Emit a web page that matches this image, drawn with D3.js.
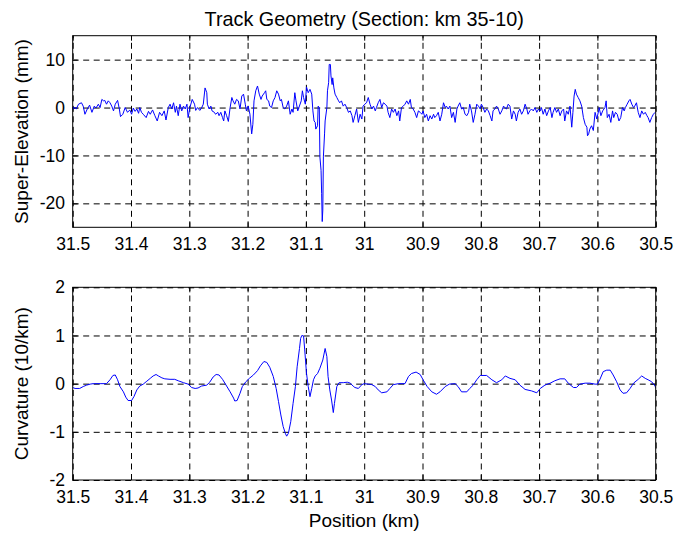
<!DOCTYPE html>
<html>
<head>
<meta charset="utf-8">
<script src="https://cdnjs.cloudflare.com/ajax/libs/d3/7.8.5/d3.min.js"></script>
<style>
  body { margin: 0; background: #fff; }
  text { font-family: "Liberation Sans", Arial, Helvetica, sans-serif; fill: #000; }
</style>
</head>
<body>
<script>
// chart text
var titleText = "Track Geometry (Section: km 35-10)";
var seLabel = "Super-Elevation (mm)";
var curvLabel = "Curvature (10/km)";
var xLabel = "Position (km)";

// tick values
var kmTicks = [31.5, 31.4, 31.3, 31.2, 31.1, 31, 30.9, 30.8, 30.7, 30.6, 30.5];
var seTicks = [-20, -10, 0, 10];
var curvTicks = [-2, -1, 0, 1, 2];
var seDomain = [-25, 15];
var curvDomain = [-2, 2];

// super-elevation [km, mm]
var superElevation = [
  [31.500,-0.5],[31.498,0.1],[31.494,-0.3],[31.490,0.7],[31.485,1.0],[31.482,0.3],[31.479,-1.4],[31.475,-0.3],
  [31.471,0.5],[31.467,-1.0],[31.463,0.3],[31.460,-0.1],[31.456,0.7],[31.453,0.0],[31.450,1.7],[31.447,1.4],
  [31.445,1.5],[31.442,0.7],[31.439,1.4],[31.436,1.0],[31.433,0.3],[31.430,-0.7],[31.427,0.7],[31.423,1.5],
  [31.420,-0.3],[31.418,-1.9],[31.414,-1.4],[31.410,0.0],[31.406,-1.0],[31.402,-0.5],[31.399,-1.4],[31.396,-0.1],
  [31.393,-0.8],[31.390,-0.3],[31.387,-1.2],[31.385,0.0],[31.382,-1.0],[31.379,-1.4],[31.374,-2.1],[31.370,-0.8],
  [31.367,-1.4],[31.363,-0.5],[31.359,-1.7],[31.355,-2.8],[31.351,-1.0],[31.347,-1.7],[31.343,-0.7],[31.340,-2.6],
  [31.336,0.0],[31.333,0.7],[31.330,-0.3],[31.327,1.0],[31.324,-1.0],[31.322,0.3],[31.319,-1.7],[31.316,0.7],
  [31.313,-0.7],[31.310,0.3],[31.307,-0.3],[31.304,0.7],
  [31.302,-2.1],[31.299,0.0],[31.295,1.7],[31.291,0.7],[31.289,-0.6],[31.286,0.0],[31.282,-0.6],[31.279,-0.1],
  [31.276,0.7],[31.273,4.1],[31.270,3.1],[31.269,0.7],[31.266,-0.3],[31.263,0.3],[31.261,-0.7],[31.257,-1.0],
  [31.255,-1.4],[31.251,-1.0],[31.249,-1.7],[31.246,-1.0],[31.243,-2.1],[31.241,-2.8],[31.239,-0.7],[31.236,-1.7],
  [31.233,-2.9],[31.230,0.0],[31.227,2.1],[31.225,1.4],[31.222,0.7],[31.219,1.7],[31.216,1.4],[31.213,-0.3],
  [31.210,2.4],[31.207,2.8],[31.204,0.7],[31.202,-0.7],[31.199,0.3],[31.196,-1.4],[31.193,-5.5],[31.191,-3.5],
  [31.189,1.4],[31.186,3.5],[31.183,4.5],[31.180,2.8],[31.177,1.7],[31.175,2.4],[31.171,3.1],[31.169,3.5],
  [31.167,1.7],[31.164,1.4],[31.162,0.3],[31.159,0.0],[31.156,1.4],[31.153,2.1],[31.150,3.5],[31.147,2.8],
  [31.144,1.4],[31.142,1.7],[31.139,0.0],[31.136,-0.3],[31.133,0.3],[31.130,1.4],[31.127,-1.4],[31.124,-0.3],
  [31.122,-1.0],[31.119,3.1],[31.117,1.4],[31.114,-0.7],[31.112,0.0],[31.108,1.4],[31.106,3.5],[31.104,2.1],
  [31.101,0.7],
  [31.099,4.3],[31.096,3.1],[31.093,3.8],[31.090,2.8],[31.088,-0.7],[31.086,-2.8],[31.084,-3.1],[31.083,-4.5],
  [31.080,-3.8],[31.079,0.3],[31.077,0.0],[31.076,-10.3],[31.074,-13.1],[31.073,-17.9],[31.072,-23.8],[31.071,-21.4],
  [31.070,-10.3],[31.068,-5.5],[31.067,-2.8],[31.064,0.0],[31.063,3.5],[31.061,5.2],[31.060,9.0],[31.058,9.0],
  [31.057,6.6],[31.055,4.8],[31.054,6.2],[31.052,4.1],[31.050,2.8],[31.047,2.1],[31.044,1.4],[31.042,1.0],
  [31.039,1.4],[31.036,0.3],[31.033,0.7],[31.030,0.0],[31.027,-1.0],[31.024,-0.7],[31.021,-1.7],[31.019,-3.1],
  [31.016,-1.7],[31.013,-0.3],[31.010,-3.1],[31.007,-1.4],[31.004,-2.4],[31.002,0.3],[30.999,0.7],[30.996,1.0],
  [30.993,2.1],[30.990,0.7],[30.987,-0.3],[30.984,0.3],[30.981,-0.7],[30.979,0.0],[30.976,1.0],[30.973,1.7],
  [30.970,0.0],[30.967,1.0],[30.964,0.7],[30.961,0.3],[30.959,-1.0],[30.956,-2.1],[30.953,-0.3],[30.950,-1.0],
  [30.947,-0.3],[30.944,-1.7],[30.941,-0.7],[30.939,-2.8],[30.936,0.0],[30.933,0.3],[30.930,0.7],[30.927,1.4],
  [30.924,0.7],[30.921,1.7],[30.919,0.0],[30.916,-0.3],[30.913,-1.0],[30.910,-2.1],[30.907,-0.7],[30.904,-1.0],
  [30.901,-1.4],[30.899,-0.7],[30.896,-2.1],[30.893,-1.4],[30.890,-2.8],[30.887,-1.7],[30.884,-2.4],[30.881,-1.4],
  [30.879,-2.1],[30.876,-1.7],[30.873,-1.0],[30.870,-2.8],[30.867,-1.4],[30.864,1.0],[30.861,0.0],[30.859,0.3],
  [30.856,-0.3],[30.853,0.3],[30.850,-2.1],[30.847,-1.0],[30.844,-3.1],[30.841,-0.3],[30.839,0.3],[30.836,1.0],
  [30.833,-0.3],[30.830,0.0],[30.827,-1.4],[30.824,-1.7],[30.821,-1.0],[30.819,0.7],[30.816,-0.7],[30.813,-3.1],
  [30.810,-1.4],[30.807,0.7],[30.804,0.3],[30.801,-0.3],[30.799,0.7],[30.796,0.0],[30.793,-1.0],[30.790,-0.3],
  [30.787,-0.7],[30.784,-1.7],[30.781,-2.8],[30.779,-0.7],[30.776,-0.3],[30.773,0.3],[30.770,-0.3],[30.767,-1.4],
  [30.764,-0.7],[30.761,0.3],[30.759,0.0],[30.756,-0.3],[30.753,0.7],[30.750,0.3],[30.747,-2.4],[30.744,-0.7],
  [30.741,-1.4],[30.739,-2.8],[30.736,-1.0],[30.733,-0.3],[30.730,-1.4],[30.727,-0.7],[30.724,0.7],[30.721,-0.3],
  [30.719,-1.4],[30.716,-0.7],[30.713,-0.3],
  [30.710,-0.7],[30.707,0.0],[30.704,-1.0],[30.701,-0.3],[30.698,-0.7],[30.696,0.0],[30.693,-1.4],[30.690,-0.3],
  [30.687,-1.7],[30.684,-0.7],[30.681,0.0],[30.678,-2.1],[30.676,-1.0],[30.673,0.0],[30.670,-1.0],[30.667,-0.3],
  [30.664,-1.7],[30.661,-0.7],[30.658,-0.3],[30.656,-2.8],[30.653,-0.7],[30.650,-1.4],[30.647,0.3],[30.644,-4.1],
  [30.642,-1.0],[30.640,2.4],[30.638,3.8],[30.636,2.8],[30.633,2.1],[30.630,1.4],[30.627,0.3],[30.624,-2.1],
  [30.621,-3.5],[30.618,-4.1],[30.617,-5.9],[30.615,-5.5],[30.613,-4.5],[30.610,-3.8],[30.607,-4.8],[30.604,-1.0],
  [30.601,-2.4],[30.598,-0.7],[30.597,0.0],[30.594,-1.7],[30.591,-0.7],[30.587,0.0],[30.585,1.4],[30.583,-2.1],
  [30.580,-1.4],[30.577,-3.1],[30.574,-0.7],[30.572,-2.1],[30.569,-1.0],[30.566,-1.4],[30.563,-2.8],[30.560,-2.1],
  [30.557,0.0],[30.554,-0.7],[30.552,0.0],[30.549,0.7],[30.546,1.4],[30.544,1.7],[30.541,0.7],[30.538,0.0],
  [30.536,0.3],[30.533,1.0],[30.530,-1.0],[30.527,-2.1],[30.524,-0.7],[30.521,-1.4],[30.518,-1.0],[30.515,-1.7],
  [30.513,-2.1],[30.510,-3.1],[30.507,-2.1],[30.504,-1.4],[30.501,-1.0],[30.500,-1.0]
];

// curvature [km, 10/km]
var curvature = [
  [31.500,-0.08],[31.496,-0.10],[31.488,-0.10],[31.482,-0.06],[31.476,-0.03],[31.470,-0.01],[31.465,0],[31.453,0],
  [31.442,0],[31.436,0.08],[31.431,0.17],[31.427,0.18],[31.423,0.08],[31.419,-0.06],[31.413,-0.17],[31.409,-0.28],
  [31.405,-0.35],[31.399,-0.35],[31.395,-0.27],[31.390,-0.13],[31.385,-0.05],[31.379,-0.01],[31.374,0.04],[31.367,0.11],
  [31.362,0.16],[31.357,0.19],[31.353,0.16],[31.347,0.12],[31.342,0.10],[31.333,0.09],[31.325,0.09],[31.319,0.06],
  [31.310,0.02],[31.302,-0.01],[31.296,-0.08],[31.290,-0.10],[31.285,-0.09],[31.279,-0.05],[31.270,-0.03],[31.265,0.03],
  [31.259,0.14],[31.254,0.19],[31.249,0.18],[31.243,0.09],[31.236,-0.05],[31.230,-0.17],[31.224,-0.30],[31.222,-0.36],
  [31.218,-0.35],[31.213,-0.20],[31.209,-0.06],[31.203,0.04],[31.197,0.11],[31.190,0.18],[31.183,0.27],[31.178,0.37],
  [31.172,0.46],[31.167,0.44],[31.162,0.34],[31.156,0.15],[31.151,-0.10],[31.147,-0.37],[31.143,-0.65],[31.139,-0.89],
  [31.135,-1.04],[31.133,-1.09],[31.130,-1.03],[31.126,-0.79],[31.122,-0.41],[31.118,-0.06],[31.115,0.35],[31.111,0.73],
  [31.109,0.94],[31.107,1.00],[31.104,0.99],[31.102,0.70],[31.099,0.22],[31.096,-0.06],[31.093,-0.27],[31.090,-0.10],
  [31.087,0.08],[31.084,0.16],[31.080,0.21],[31.076,0.32],[31.071,0.49],[31.067,0.73],[31.064,0.56],[31.062,0.15],
  [31.059,-0.13],[31.056,-0.34],[31.053,-0.60],[31.051,-0.41],[31.047,-0.06],[31.043,0.02],[31.036,0.02],[31.029,0.03],
  [31.024,0.01],[31.019,-0.05],
  [31.016,-0.08],[31.010,-0.10],[31.004,-0.02],[31.000,0],[30.993,-0.01],[30.987,-0.02],[30.981,-0.06],[30.976,-0.13],
  [30.970,-0.19],[30.961,-0.17],[30.956,-0.10],[30.950,-0.02],[30.941,0],[30.930,0],[30.924,0.15],[30.919,0.21],
  [30.911,0.24],[30.904,0.19],[30.899,0.08],[30.892,-0.06],[30.884,-0.17],[30.876,-0.22],[30.870,-0.17],[30.861,-0.06],
  [30.854,-0.01],[30.844,0],[30.839,-0.06],[30.833,-0.17],[30.824,-0.17],[30.819,-0.10],[30.813,-0.03],[30.807,0.08],
  [30.801,0.17],[30.790,0.17],[30.781,0.08],[30.773,0.02],[30.764,0.08],[30.758,0.16],[30.750,0.11],[30.741,0.08],
  [30.733,-0.03],[30.724,-0.12],[30.713,-0.15],[30.704,-0.19],[30.698,-0.10],[30.690,-0.03],[30.681,0.01],[30.673,0.06],
  [30.664,0.10],[30.656,0.10],[30.650,0.01],[30.641,-0.08],[30.636,-0.08],[30.630,-0.01],[30.621,0.01],[30.613,0.01],
  [30.604,-0.01],[30.600,-0.01],[30.596,0.08],[30.590,0.25],[30.584,0.28],[30.578,0.28],[30.573,0.18],[30.567,0.04],
  [30.561,-0.13],[30.556,-0.20],[30.550,-0.19],[30.544,-0.10],[30.538,0.01],[30.530,0.09],[30.524,0.16],[30.518,0.11],
  [30.513,0.08],[30.507,0.04],[30.501,-0.05],[30.500,-0.10]
];

var width = 674, height = 533;
var left = 72.7, right = 655.7;

var svg = d3.select("body").append("svg")
    .attr("width", width)
    .attr("height", height);

var x = d3.scaleLinear().domain([31.5, 30.5]).range([left, right]);
var fmt = function(d) { return String(d); };

function drawPanel(data, yDomain, yTicks, top, bottom, label, clipId) {
  var h = bottom - top, w = right - left;
  var y = d3.scaleLinear().domain(yDomain).range([bottom, top]);
  var g = svg.append("g");

  // dashed grid
  g.append("g")
      .attr("transform", "translate(0," + bottom + ")")
      .call(d3.axisBottom(x).tickValues(kmTicks).tickSize(-h).tickFormat(""))
      .call(function(s) {
        s.select(".domain").remove();
        s.selectAll("line").attr("stroke", "#000").attr("stroke-dasharray", "6,4.5");
      });
  g.append("g")
      .attr("transform", "translate(" + left + ",0)")
      .call(d3.axisLeft(y).tickValues(yTicks).tickSize(-w).tickFormat(""))
      .call(function(s) {
        s.select(".domain").remove();
        s.selectAll("line").attr("stroke", "#000").attr("stroke-dasharray", "6,4.5");
      });

  // inward ticks on all four sides, labels bottom and left
  g.append("g")
      .attr("transform", "translate(0," + bottom + ")")
      .call(d3.axisBottom(x).tickValues(kmTicks).tickSizeInner(-5).tickSizeOuter(0).tickPadding(10.6).tickFormat(fmt))
      .call(function(s) { s.select(".domain").remove(); });
  g.append("g")
      .attr("transform", "translate(0," + top + ")")
      .call(d3.axisTop(x).tickValues(kmTicks).tickSizeInner(-5).tickSizeOuter(0).tickFormat(""))
      .call(function(s) { s.select(".domain").remove(); });
  g.append("g")
      .attr("transform", "translate(" + left + ",0)")
      .call(d3.axisLeft(y).tickValues(yTicks).tickSizeInner(-5).tickSizeOuter(0).tickPadding(7.7).tickFormat(fmt))
      .call(function(s) { s.select(".domain").remove(); });
  g.append("g")
      .attr("transform", "translate(" + right + ",0)")
      .call(d3.axisRight(y).tickValues(yTicks).tickSizeInner(-5).tickSizeOuter(0).tickFormat(""))
      .call(function(s) { s.select(".domain").remove(); });

  g.selectAll(".tick text")
      .style("font-family", "'Liberation Sans', Arial, Helvetica, sans-serif")
      .style("font-size", "17.5px")
      .attr("fill", "#000");
  g.selectAll(".tick line").filter(function() { return !this.getAttribute("stroke-dasharray"); })
      .attr("stroke", "#000");

  svg.append("clipPath").attr("id", clipId)
    .append("rect").attr("x", left).attr("y", top).attr("width", w).attr("height", h);

  var line = d3.line()
      .x(function(d) { return x(d[0]); })
      .y(function(d) { return y(d[1]); });

  g.append("path")
      .datum(data)
      .attr("clip-path", "url(#" + clipId + ")")
      .attr("fill", "none")
      .attr("stroke", "#0000ff")
      .attr("stroke-width", 1)
      .attr("stroke-linejoin", "round")
      .attr("d", line);

  // axes box
  g.append("rect")
      .attr("x", left).attr("y", top)
      .attr("width", w).attr("height", h)
      .attr("fill", "none")
      .attr("stroke", "#000")
      .attr("stroke-width", 1);

  svg.append("text")
      .attr("transform", "translate(28," + ((top + bottom) / 2) + ")rotate(-90)")
      .attr("text-anchor", "middle")
      .style("font-size", "19px")
      .text(label);
}

drawPanel(superElevation, seDomain, seTicks, 35.7, 227.3, seLabel, "clipTop");
drawPanel(curvature, curvDomain, curvTicks, 287.3, 480, curvLabel, "clipBottom");

svg.append("text")
    .attr("x", (left + right) / 2)
    .attr("y", 26)
    .attr("text-anchor", "middle")
    .style("font-size", "19.8px")
    .text(titleText);

svg.append("text")
    .attr("x", (left + right) / 2)
    .attr("y", 527)
    .attr("text-anchor", "middle")
    .style("font-size", "19px")
    .text(xLabel);
</script>
</body>
</html>
